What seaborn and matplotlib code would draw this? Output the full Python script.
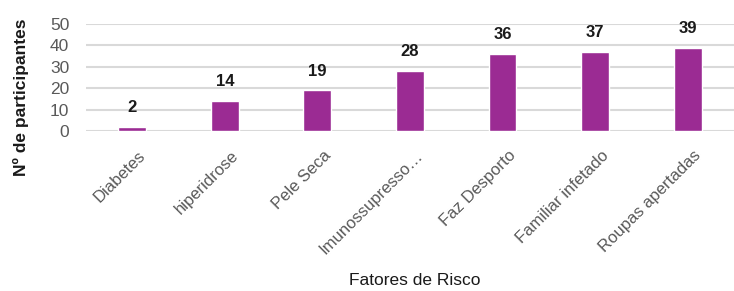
import pandas as pd
import seaborn as sns
import matplotlib.pyplot as plt
import matplotlib.transforms as mtransforms

# data
categories = ["Diabetes", "hiperidrose", "Pele Seca", "Imunossupresso…",
              "Faz Desporto", "Familiar infetado", "Roupas apertadas"]
values = [2, 14, 19, 28, 36, 37, 39]

df = pd.DataFrame({"fator": categories, "n": values})

sns.set_style("white")
plt.rcParams['font.family'] = ['Liberation Sans', 'DejaVu Sans']

fig = plt.figure(figsize=(7.34, 2.91), dpi=100)
ax = fig.add_axes([0.117, 0.55, 0.883, 0.3675])

sns.barplot(data=df, x="fator", y="n", color="#9B2B93", width=0.3,
            saturation=1, ax=ax, zorder=3)

for p, v in zip(ax.patches, values):
    ax.text(p.get_x() + p.get_width() / 2, v + 9, str(v),
            ha="center", va="center", fontsize=12, fontweight="bold",
            color="#1a1a1a")

ax.set_ylim(0, 50)
ax.set_yticks([0, 10, 20, 30, 40, 50])
ax.yaxis.grid(True, color="#d9d9d9", linewidth=1.5, zorder=0)
for s in ax.spines.values():
    s.set_visible(False)
ax.tick_params(axis="both", length=0, labelcolor="#595959")
ax.tick_params(axis="y", labelsize=12.5, pad=12)
ax.tick_params(axis="x", labelsize=12, pad=12)

# rotated category labels, shifted a little right like the original
offset = mtransforms.ScaledTranslation(4 / 72, 0, fig.dpi_scale_trans)
for lab in ax.get_xticklabels():
    lab.set_rotation(45)
    lab.set_ha("right")
    lab.set_rotation_mode("anchor")
    lab.set_transform(lab.get_transform() + offset)

ax.set_xlabel("")
ax.set_ylabel("")
fig.text(0.028, 0.665, "Nº de participantes", rotation=90, ha="center",
         va="center", fontsize=12.5, fontweight="bold", color="#1a1a1a")
fig.text(0.565, 0.036, "Fatores de Risco", ha="center", va="center",
         fontsize=12.5, color="#1a1a1a")

plt.savefig("out.png", dpi=100)
